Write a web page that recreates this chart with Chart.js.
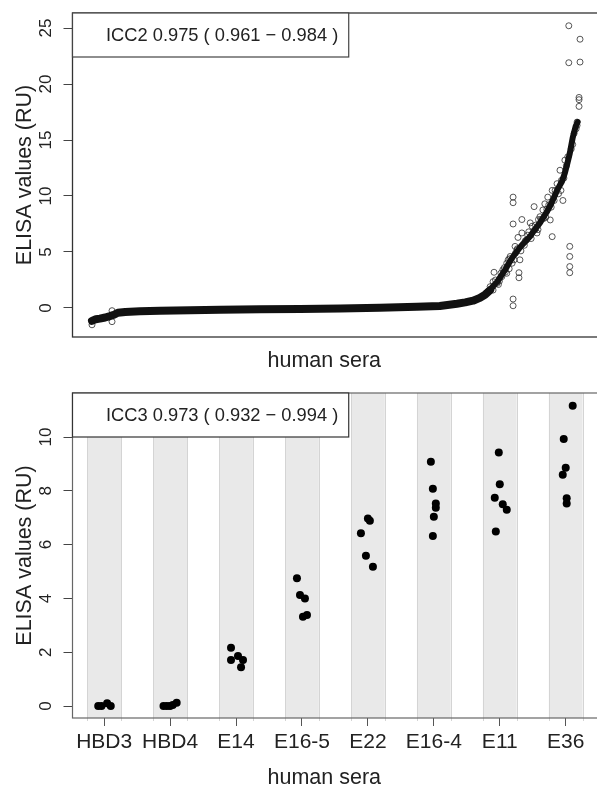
<!DOCTYPE html>
<html>
<head>
<meta charset="utf-8">
<script src="https://cdn.jsdelivr.net/npm/chart.js@4"></script>
<style>
  html, body { margin: 0; padding: 0; background: #fff; overflow: hidden; width: 597px; height: 786px; }
  #topChart { position: absolute; left: 0; top: 0; }
  #bottomChart { position: absolute; left: 0; top: 375px; }
</style>
</head>
<body>
<canvas id="topChart" width="600" height="375"></canvas>
<canvas id="bottomChart" width="600" height="420"></canvas>
<script>
// top panel: sorted sera (rank -> ELISA value), dense band
const bandRank = [1, 9, 17, 28, 38, 46, 54, 69, 99, 140, 202, 263, 345, 427, 509, 590, 666, 713, 748, 765, 781, 795,
    806, 816, 823, 830, 836, 842, 848, 853, 858, 863, 870, 877, 884, 891, 898, 904, 911, 918, 923, 928, 933, 938,
    946, 953, 958, 963, 969, 974, 979, 985, 991, 995]
const bandValue = [-1.15, -1.0, -0.95, -0.85, -0.72, -0.6, -0.42, -0.35, -0.3, -0.25, -0.2, -0.15, -0.12, -0.08, -0.04, 0.02, 0.12, 0.18, 0.38, 0.5, 0.65, 0.9,
    1.2, 1.6, 2.0, 2.3, 2.7, 3.1, 3.5, 3.9, 4.25, 4.6, 5.0, 5.4, 5.75, 6.07, 6.4, 6.8, 7.2, 7.6, 7.95, 8.3, 8.65, 9.05,
    9.8, 10.5, 10.9, 11.3, 12.05, 12.9, 13.8, 15.2, 16.2, 16.6]
// top panel: single circles that stand out from the band
const circleRank = [824, 863, 863, 863, 881, 906, 873, 867, 877, 875, 875, 863, 863, 943, 939, 928, 965, 961, 979, 979, 979, 979,
    816, 822, 840, 850, 857, 850, 881, 891, 902, 918, 949, 953, 959, 969, 975, 871, 853, 842, 830, 822, 898, 912, 924, 934,
    943, 861, 855, 835, 845, 868, 886, 895, 908, 915, 930, 936, 985, 988, 992,
    812, 827, 833, 838, 847, 856, 865, 872, 879, 888, 893, 900, 909, 914, 920, 926, 932, 941, 947, 956, 962, 967, 972, 982,
    998, 998, 998, 994, 994, 977, 1000, 1000, 977, 1, 42, 42]
const circleValue = [3.19, 9.9, 9.4, 7.5, 7.9, 9.05, 6.3, 5.5, 4.3, 3.15, 2.7, 0.8, 0.2, 6.37, 7.86, 9.3, 9.6, 10.5, 5.5, 4.6, 3.7, 3.15,
    1.9, 2.35, 2.8, 4.0, 4.6, 3.1, 6.7, 6.1, 7.3, 8.15, 10.5, 11.1, 12.3, 13.2, 13.5, 5.2, 4.3, 3.4, 2.2, 1.6, 7.6, 6.7, 8.75, 9.9,
    10.5, 4.0, 3.5, 2.4, 3.6, 4.9, 5.6, 6.8, 7.0, 7.9, 8.1, 9.2, 14.6, 15.6, 16.0,
    1.5, 2.5, 2.1, 3.1, 3.2, 4.4, 4.3, 5.3, 5.1, 6.0, 6.5, 6.2, 7.4, 7.0, 7.9, 8.0, 8.8, 9.0, 9.6, 10.2, 11.4, 11.6, 12.7, 14.2,
    18.8, 18.6, 18.0, 16.6, 16.3, 21.9, 21.96, 24.0, 25.2, -1.5, -0.24, -1.22]
const topTicks = [0, 5, 10, 15, 20, 25]
const topText = "ICC2 0.975 ( 0.961 \u2212 0.984 )"

// bottom panel: replicate measurements per serum
const sera = ["HBD3", "HBD4", "E14", "E16-5", "E22", "E16-4", "E11", "E36"]
const seraValues = [
    [0, 0, 0.1, 0],
    [0, 0, 0, 0.04, 0.12],
    [2.17, 1.71, 1.86, 1.71, 1.44],
    [4.75, 4.13, 4.0, 3.32, 3.38],
    [6.42, 6.97, 6.89, 5.59, 5.18],
    [9.08, 8.08, 7.53, 7.37, 7.04, 6.32],
    [9.42, 8.24, 7.74, 7.5, 7.3, 6.49],
    [11.16, 9.93, 8.86, 8.6, 7.72, 7.53]
]
const seraJitter = [
    [-0.09, -0.04, 0.045, 0.1],
    [-0.1, -0.05, 0, 0.04, 0.1],
    [-0.076, -0.076, 0.03, 0.106, 0.076],
    [-0.076, -0.03, 0.045, 0.015, 0.076],
    [-0.106, 0, 0.03, -0.03, 0.076],
    [-0.045, -0.015, 0.03, 0.03, 0, -0.015],
    [-0.015, 0, -0.076, 0.045, 0.106, -0.06],
    [0.106, -0.03, 0, -0.045, 0.015, 0.015]
]
const bottomTicks = [0, 2, 4, 6, 8, 10]
const bottomText = "ICC3 0.973 ( 0.932 \u2212 0.994 )"
const bandHalf = 0.256

const FONT = "'Liberation Sans', Arial, Helvetica, sans-serif"
Chart.defaults.font.family = FONT
Chart.defaults.color = '#222'

// no extra margins from the scales
function noPadding(s) {
    s.paddingTop = 0
    s.paddingBottom = 0
    s.paddingLeft = 0
    s.paddingRight = 0
}

// frame around the plot region
const boxPlugin = {
    id: 'box',
    afterDatasetsDraw(chart, args, opts) {
        const a = chart.chartArea, ctx = chart.ctx
        ctx.save()
        ctx.strokeStyle = opts.color
        ctx.lineWidth = opts.width
        ctx.strokeRect(a.left, a.top, a.right - a.left, a.bottom - a.top)
        ctx.restore()
    }
}

// ICC box in the top-left corner
const iccPlugin = {
    id: 'icc',
    afterDraw(chart, args, opts) {
        const a = chart.chartArea, ctx = chart.ctx
        ctx.save()
        ctx.font = '18.3px ' + FONT
        const w = ctx.measureText(opts.text).width + 44
        const h = 44
        ctx.fillStyle = '#fff'
        ctx.fillRect(a.left, a.top, w, h)
        ctx.strokeStyle = opts.color
        ctx.lineWidth = 1.2
        ctx.strokeRect(a.left, a.top, w, h)
        ctx.fillStyle = '#222'
        ctx.textBaseline = 'middle'
        ctx.fillText(opts.text, a.left + 33.5, a.top + h / 2 + 1)
        ctx.restore()
    }
}

// grey stripes behind every serum
const stripePlugin = {
    id: 'stripes',
    beforeDatasetsDraw(chart) {
        const x = chart.scales.x, a = chart.chartArea, ctx = chart.ctx
        ctx.save()
        for (let i = 0; i < sera.length; i++) {
            const l = x.getPixelForValue(i - bandHalf), r = x.getPixelForValue(i + bandHalf)
            ctx.fillStyle = '#e9e9e9'
            ctx.fillRect(l, a.top, r - l, a.bottom - a.top)
            ctx.strokeStyle = '#d4d4d4'
            ctx.lineWidth = 1
            ctx.beginPath()
            ctx.moveTo(Math.round(l) + 0.5, a.top)
            ctx.lineTo(Math.round(l) + 0.5, a.bottom + 3)
            ctx.moveTo(Math.round(r) + 0.5, a.top)
            ctx.lineTo(Math.round(r) + 0.5, a.bottom + 3)
            ctx.stroke()
        }
        ctx.restore()
    }
}

function yAxis(min, max, tickArr) {
    return {
        type: 'linear',
        min: min,
        max: max,
        afterBuildTicks(s) { s.ticks = tickArr.map(v => ({ value: v })) },
        grid: { drawOnChartArea: false, drawTicks: true, tickLength: 9, color: '#444' },
        border: { display: false },
        ticks: { font: { size: 17 }, minRotation: 90, maxRotation: 90, crossAlign: 'center', padding: 8 },
        title: { display: true, text: 'ELISA values (RU)', font: { size: 21.5 }, padding: { top: 12.2, bottom: 0 } },
        afterFit(s) { s.width = 72.5; noPadding(s) }
    }
}

// top chart
let topData = []
for (let i = 0; i < bandRank.length; i++) topData.push({ x: bandRank[i], y: bandValue[i] })
let circleData = []
for (let i = 0; i < circleRank.length; i++) circleData.push({ x: circleRank[i], y: circleValue[i] })

new Chart(document.getElementById('topChart').getContext('2d'), {
    type: 'scatter',
    data: {
        datasets: [{
            data: topData,
            showLine: true,
            borderColor: '#111',
            borderWidth: 8,
            segment: { borderWidth: c => c.p0.parsed.x >= 816 ? 6 : 8 },
            borderCapStyle: 'round',
            borderJoinStyle: 'round',
            pointRadius: 0
        }, {
            data: circleData,
            pointRadius: 3,
            backgroundColor: 'rgba(0,0,0,0)',
            borderColor: 'rgba(45,45,45,0.8)',
            borderWidth: 1
        }]
    },
    options: {
        responsive: false,
        animation: false,
        layout: { autoPadding: false, padding: { top: 13, left: 0, right: 0, bottom: 0 } },
        scales: {
            x: {
                type: 'linear',
                min: -38.9,
                max: 1040.9,
                grid: { display: false },
                border: { display: false },
                ticks: { display: false },
                title: { display: true, text: 'human sera\u00a0\u00a0\u00a0\u00a0', font: { size: 21.5 }, padding: { top: 0, bottom: 1.4 } },
                afterFit(s) { s.height = 38; noPadding(s) }
            },
            y: yAxis(-2.59, 26.34, topTicks)
        },
        plugins: {
            legend: { display: false },
            tooltip: { enabled: false },
            box: { color: '#333', width: 1.3 },
            icc: { text: topText, color: '#444' }
        }
    },
    plugins: [boxPlugin, iccPlugin]
})

// bottom chart
let seraData = []
for (let i = 0; i < sera.length; i++) {
    for (let j = 0; j < seraValues[i].length; j++) {
        seraData.push({ x: i + seraJitter[i][j], y: seraValues[i][j] })
    }
}

new Chart(document.getElementById('bottomChart').getContext('2d'), {
    type: 'scatter',
    data: {
        datasets: [{
            data: seraData,
            pointRadius: 4,
            backgroundColor: '#000',
            borderWidth: 0
        }]
    },
    options: {
        responsive: false,
        animation: false,
        layout: { autoPadding: false, padding: { top: 18, left: 0, right: 0, bottom: 0 } },
        scales: {
            x: {
                type: 'linear',
                min: -0.48,
                max: 7.52,
                afterBuildTicks(s) { s.ticks = sera.map((c, i) => ({ value: i })) },
                grid: { drawOnChartArea: false, drawTicks: true, tickLength: 8, color: '#555' },
                border: { display: false },
                ticks: { callback: v => sera[v], font: { size: 21 }, padding: 4, maxRotation: 0, autoSkip: false },
                title: { display: true, text: 'human sera\u00a0\u00a0\u00a0\u00a0', font: { size: 21.5 }, padding: { top: 0, bottom: 4.4 } },
                afterFit(s) { s.height = 77; noPadding(s) }
            },
            y: yAxis(-0.446, 11.636, bottomTicks)
        },
        plugins: {
            legend: { display: false },
            tooltip: { enabled: false },
            box: { color: '#666', width: 1.2 },
            icc: { text: bottomText, color: '#333' }
        }
    },
    plugins: [stripePlugin, boxPlugin, iccPlugin]
})
</script>
</body>
</html>
